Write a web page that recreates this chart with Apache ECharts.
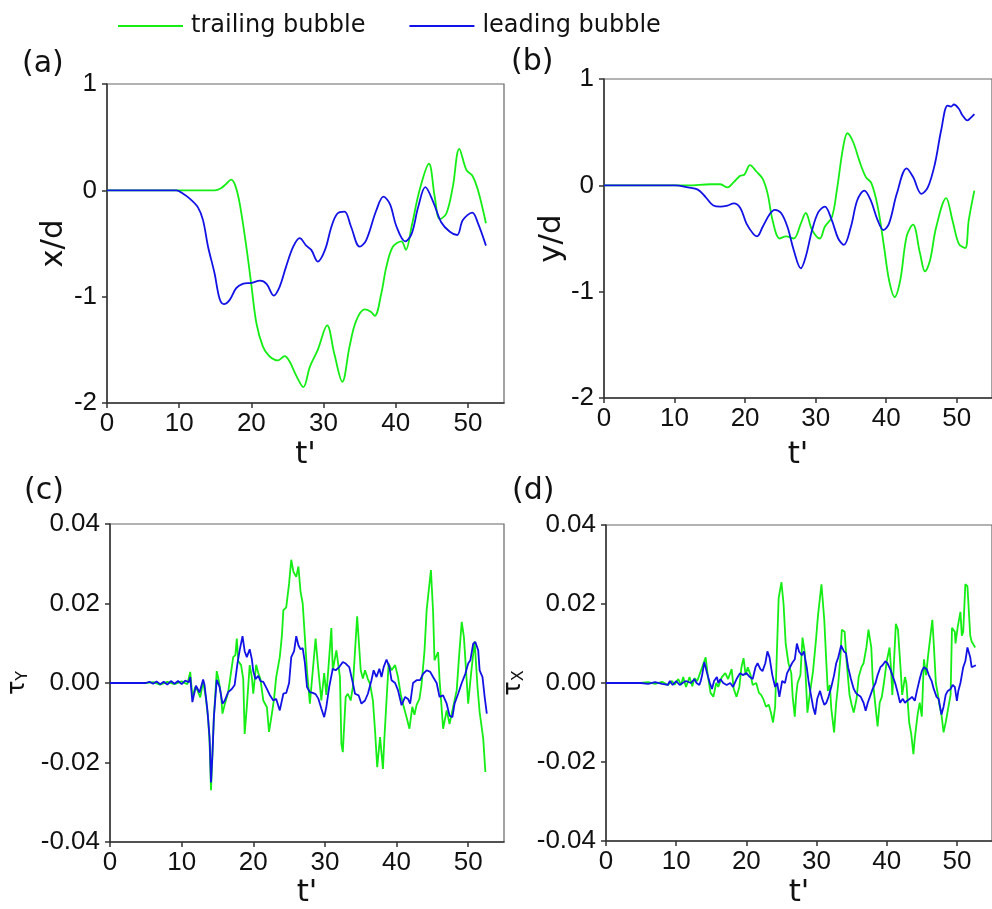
<!DOCTYPE html>
<html>
<head>
<meta charset="utf-8">
<script src="https://cdn.jsdelivr.net/npm/echarts@6/dist/echarts.min.js"></script>
<style>
  html, body { margin: 0; padding: 0; background: #fff; }
  #chart { width: 992px; height: 909px; }
</style>
</head>
<body>
<div id="chart"></div>
<script>
// Time ticks shared by all four panels
const timeTicks = [0, 10, 20, 30, 40, 50];
const seriesNames = ['trailing bubble', 'leading bubble'];

// (a) streamwise position x/d versus t'
const trailingX = [[0,0],[10,0],[14.9,0],[15.8,0.02],[16.5,0.06],[17.2,0.10],[17.8,0.04],[18.4,-0.13],[19.3,-0.53],[20.0,-0.89],[20.7,-1.25],[21.6,-1.47],[22.5,-1.56],[23.7,-1.60],[24.6,-1.56],[25.3,-1.61],[26.2,-1.74],[27.2,-1.85],[28.1,-1.66],[29.2,-1.50],[30.5,-1.27],[31.5,-1.54],[32.6,-1.80],[33.6,-1.47],[34.5,-1.23],[35.7,-1.12],[36.5,-1.14],[37.1,-1.18],[38.0,-0.97],[38.7,-0.72],[39.6,-0.53],[40.8,-0.48],[41.4,-0.56],[42.2,-0.34],[43.3,0],[44.6,0.25],[45.4,-0.06],[46.1,-0.27],[47.0,-0.22],[47.9,0.03],[48.8,0.39],[49.8,0.19],[50.6,0.14],[51.4,0],[52.5,-0.31]];
const leadingX = [[0,0],[9.6,0],[10.5,-0.03],[11.5,-0.08],[12.6,-0.16],[13.3,-0.28],[14.0,-0.53],[14.9,-0.78],[15.6,-1.02],[16.2,-1.07],[17.0,-1.03],[17.9,-0.92],[18.8,-0.88],[20.0,-0.87],[21.2,-0.85],[22.1,-0.88],[23.1,-0.99],[23.9,-0.91],[24.8,-0.72],[25.8,-0.53],[26.7,-0.45],[27.6,-0.52],[28.3,-0.56],[29.2,-0.67],[30.2,-0.56],[31.1,-0.34],[31.9,-0.22],[32.9,-0.20],[33.8,-0.34],[35.0,-0.53],[35.9,-0.47],[37.3,-0.19],[38.3,-0.06],[39.2,-0.13],[40.1,-0.34],[41.3,-0.48],[42.2,-0.41],[43.1,-0.16],[44.1,0.03],[45.2,-0.11],[46.3,-0.30],[47.5,-0.39],[48.5,-0.42],[49.3,-0.28],[50.6,-0.21],[51.4,-0.31],[52.5,-0.52]];

// (b) lateral position y/d versus t'
const trailingY = [[0,0],[11.9,0],[15.1,0.01],[16.5,0.01],[17.5,-0.02],[18.4,0.03],[19.3,0.09],[19.9,0.10],[20.7,0.19],[21.6,0.13],[22.5,0.06],[23.2,-0.08],[23.9,-0.33],[24.9,-0.50],[25.8,-0.48],[26.9,-0.50],[27.9,-0.36],[28.6,-0.26],[29.5,-0.42],[30.6,-0.50],[31.3,-0.39],[32.3,-0.30],[33.0,-0.05],[33.9,0.36],[34.5,0.49],[35.3,0.41],[36.2,0.23],[37.1,0.08],[37.9,0.02],[38.8,-0.20],[39.7,-0.58],[40.4,-0.89],[41.2,-1.05],[42.0,-0.89],[42.9,-0.48],[43.8,-0.37],[44.8,-0.64],[45.5,-0.81],[46.2,-0.71],[47.1,-0.39],[48.5,-0.12],[49.4,-0.33],[50.3,-0.55],[51.2,-0.59],[51.7,-0.33],[52.5,-0.05]];
const leadingY = [[0,0],[10.1,0],[11.9,-0.02],[13.3,-0.04],[14.4,-0.11],[15.5,-0.19],[16.5,-0.20],[17.5,-0.19],[18.4,-0.17],[19.3,-0.21],[20.2,-0.36],[21.2,-0.46],[21.7,-0.48],[22.5,-0.39],[23.5,-0.27],[24.2,-0.23],[25.1,-0.26],[26.0,-0.39],[26.9,-0.61],[27.9,-0.78],[28.6,-0.67],[29.5,-0.42],[30.4,-0.25],[31.3,-0.20],[32.3,-0.33],[33.2,-0.50],[34.0,-0.56],[35.0,-0.39],[35.9,-0.14],[36.9,-0.05],[37.8,-0.14],[38.8,-0.33],[39.6,-0.42],[40.4,-0.36],[41.5,-0.08],[42.9,0.16],[43.8,0.08],[45.0,-0.08],[45.9,-0.02],[46.9,0.20],[47.8,0.52],[48.7,0.75],[49.2,0.74],[49.6,0.76],[50.3,0.72],[50.8,0.66],[51.5,0.61],[51.9,0.63],[52.5,0.67]];

// (c) and (d) torque values, written in units of 1e-3
const tauUnit = 1e-3;
const trailingTauY = [[0,0],[5,0],[6,0.2],[7,-0.4],[8,0.3],[9,-0.3],[10,0.4],[10.8,-0.3],[11.2,2.8],[11.5,-3.5],[11.9,-1.0],[12.2,-1.8],[12.6,-3.6],[13.0,0.5],[13.4,-4],[13.7,-9],[13.9,-15],[14.1,-27],[14.3,-18],[14.5,-8.6],[14.9,3.0],[15.2,0.5],[15.5,-3],[15.7,-7.7],[16.0,-5.5],[16.5,-2.3],[16.8,1.5],[17.2,6.5],[17.5,7],[17.7,11.2],[17.9,5.5],[18.3,4.5],[18.6,1],[18.8,-12.8],[19.1,-6],[19.5,4.5],[19.8,1.5],[20.0,-2.7],[20.4,4.6],[20.7,2.5],[21.0,1],[21.4,-4.4],[21.9,-6.1],[22.2,-12.3],[22.6,-7.7],[22.9,-4],[23.2,1.5],[23.7,6.5],[24.0,12],[24.2,18.3],[24.6,19],[25.0,25],[25.3,31],[25.6,28],[26.0,26.7],[26.3,29.3],[26.6,23],[26.9,20],[27.2,11.6],[27.5,3],[27.9,-5.2],[28.3,3],[28.7,11.2],[29.0,5],[29.5,-4.4],[29.9,2.5],[30.2,-3],[30.5,4],[30.9,13.8],[31.1,3.2],[31.6,8.2],[32.1,1.5],[32.3,-15.3],[32.5,-17.4],[32.9,-3.5],[33.2,-2.7],[33.6,-4.4],[33.9,-1.0],[34.2,8],[34.5,16.8],[35.0,3.2],[35.3,1.1],[35.6,3.2],[36.0,1],[36.3,-0.2],[36.7,-4.4],[37.0,-12],[37.3,-21.2],[37.7,-13.6],[38.1,-21.6],[38.3,-14],[38.6,-4.4],[38.9,4.9],[39.3,3.2],[39.8,4.5],[40.2,1.5],[40.6,-3],[41.0,-6],[41.4,-8.6],[41.8,-11.5],[42.2,-6],[42.5,-8],[42.8,-5.5],[43.2,-4],[43.5,-0.2],[43.9,8],[44.2,18.3],[44.8,28.4],[45.1,18],[45.3,5.7],[45.8,7.8],[46.0,1],[46.5,-11.5],[47.0,-6.9],[47.4,-10.3],[47.9,-6],[48.4,-1.8],[48.7,6],[49.1,15.4],[49.4,11.6],[50.0,-5.2],[50.4,2.3],[50.9,10.5],[51.3,-1.0],[51.6,-7.3],[51.8,-7.5],[52.1,-14],[52.4,-22.4]];
const leadingTauY = [[0,0],[5,0],[5.5,0.3],[6,-0.2],[6.5,0.4],[7,-0.3],[7.5,0.3],[8,-0.4],[8.5,0.5],[9,-0.2],[9.5,0.5],[10,-0.3],[10.5,0.6],[11.0,0.2],[11.2,1.5],[11.5,-4.8],[12.0,-0.7],[12.5,-2.4],[13.0,0.9],[13.2,-0.5],[13.6,-6.9],[13.9,-13.6],[14.1,-25],[14.3,-18],[14.5,-8.6],[14.9,0.8],[15.3,-1],[15.7,-5.2],[16.0,-4.5],[16.5,-2.3],[17.0,-1.5],[17.4,-0.5],[17.8,5],[18.1,8.2],[18.5,11.8],[18.8,8],[19.1,6.5],[19.5,8.5],[19.8,6],[20.0,3],[20.3,1],[20.7,1.8],[21.0,0.5],[21.4,0.3],[21.9,-1.5],[22.3,-3],[22.8,-4.4],[23.2,-4],[23.7,-6.9],[24.2,-2.7],[24.6,-2.5],[25.0,0],[25.3,6.5],[25.7,8],[26.0,11.8],[26.3,9.5],[26.6,8.5],[26.9,8.8],[27.2,5.2],[27.5,-1.0],[27.9,-2.3],[28.3,-2.5],[28.7,-2.8],[29.1,-4],[29.5,-6.4],[29.9,-8.6],[30.2,-6],[30.6,-1],[31.1,3.6],[31.5,3.2],[32.0,4.0],[32.5,5.3],[32.9,4.9],[33.4,4.0],[33.9,0],[34.2,-2.7],[34.7,-3.1],[35.1,-5.2],[35.6,-4.4],[36.0,-2.7],[36.5,0.7],[36.8,3.2],[37.2,1.5],[37.6,3.6],[37.9,1.5],[38.2,4.0],[38.6,5.9],[39.0,4.0],[39.3,0.7],[39.8,0],[40.2,-1.8],[40.7,-5.6],[41.2,-3.5],[41.6,-4.0],[41.9,-5.2],[42.3,0],[42.8,0.7],[43.3,0.7],[43.7,2.3],[44.2,3.2],[44.7,2.8],[45.1,1.5],[45.6,0],[46.0,-3.5],[46.5,-3.1],[47.0,-5.2],[47.4,-8.2],[47.8,-8.6],[48.1,-5.2],[48.6,-2.7],[49.1,0],[49.6,2.3],[50.0,4.9],[50.3,5.7],[50.7,9.9],[51.0,10.3],[51.4,8.2],[51.6,3.2],[52.0,1.5],[52.3,-3.5],[52.6,-7.7]];
const trailingTauX = [[0,0],[5,0],[6,0.2],[7,-0.2],[8,0.3],[8.8,-0.5],[9.4,0.5],[9.8,-0.4],[10.3,1.0],[10.7,-0.5],[11.0,1.5],[11.4,-1.0],[11.9,1.5],[12.3,-0.8],[12.6,1.2],[13.0,0.5],[13.3,2.0],[13.7,4.0],[14.2,6.5],[14.5,2.0],[14.9,-2.5],[15.3,-3.5],[15.7,0],[16.0,-1.0],[16.5,1.5],[17.0,2.5],[17.4,1.0],[17.9,3.5],[18.2,-1.5],[18.6,-3.5],[19.0,-1.0],[19.3,4.0],[19.6,6.3],[19.9,2.0],[20.2,4.0],[20.6,2.0],[20.9,-0.5],[21.4,0],[21.8,-2.5],[22.1,-3.0],[22.4,-4.0],[22.8,-6.0],[23.2,-5.5],[23.5,-7.5],[23.8,-10.0],[24.1,-6],[24.3,5],[24.6,21.5],[24.7,22.5],[25.0,25.5],[25.3,20],[25.6,10],[25.8,9.5],[26.0,5],[26.4,2.5],[26.6,-3.5],[26.9,-8.5],[27.1,-3],[27.3,0],[27.7,2.0],[28.0,11.5],[28.3,8],[28.5,0],[28.7,-7.5],[29.1,-2],[29.5,3],[29.9,10.5],[30.2,17],[30.7,25],[31.1,16],[31.4,5],[31.6,-2],[31.9,-0.5],[32.1,-6.5],[32.5,-12.5],[32.8,-5],[33.1,0],[33.4,6.5],[33.6,13.5],[34.0,13],[34.3,5],[34.7,-3],[35.0,-5.5],[35.3,-7.5],[35.7,-4],[36.0,1.5],[36.4,4.0],[36.7,5.0],[37.1,9],[37.4,13.5],[37.8,9],[38.0,1],[38.4,-6],[38.7,-11],[39.0,-5],[39.3,-3.5],[39.6,0],[40.0,5.5],[40.4,9.0],[40.6,4],[40.8,-3],[41.0,4],[41.3,15],[41.6,13.5],[42.0,3],[42.2,-3],[42.6,1.5],[42.8,0],[43.2,-10],[43.5,-13],[43.8,-18],[44.0,-14],[44.4,-8],[44.7,-5],[45.0,-8.5],[45.3,6],[45.6,2],[45.9,7],[46.3,13],[46.5,16],[46.7,10],[47.0,0],[47.3,-3],[47.5,-5.5],[47.8,-8],[48.1,-12.5],[48.4,-10],[48.8,-6],[49.1,-3],[49.3,14],[49.7,13],[49.8,10],[50.1,14],[50.5,18],[50.7,12],[50.9,13],[51.2,25],[51.5,24.5],[51.9,12],[52.1,10.5],[52.6,9.0]];
const leadingTauX = [[0,0],[5,0],[6,-0.2],[7,0.2],[8,-0.2],[8.8,-0.5],[9.1,0.5],[9.5,-0.5],[10.0,0.5],[10.5,-0.5],[10.9,0],[11.4,0.5],[11.6,1.0],[12.1,0],[12.6,1.0],[12.9,0],[13.3,-0.5],[13.5,0.5],[13.7,2.0],[14.0,5.3],[14.4,2.5],[14.8,0],[15.1,-1.5],[15.4,0.5],[15.8,1.5],[16.0,0],[16.3,1.0],[16.7,0],[17.2,-0.5],[17.7,0],[18.1,-1.0],[18.6,1.0],[19.1,2.5],[19.5,2.0],[20.0,2.5],[20.5,1.5],[20.9,1.0],[21.3,4.0],[21.6,5.0],[22.0,3.5],[22.3,3.0],[22.7,5.0],[23.0,8.0],[23.3,6.5],[23.7,2.0],[24.1,-1],[24.4,0],[24.7,-3.5],[25.1,0.5],[25.5,0],[25.8,2.5],[26.1,3.5],[26.5,5.0],[26.9,6.0],[27.2,10],[27.5,8],[27.9,7],[28.2,8],[28.6,4],[28.9,0],[29.2,-3],[29.5,-6],[29.8,-8],[30.1,-4],[30.5,-2],[30.8,-4],[31.1,-5.5],[31.4,-5],[31.7,-3.5],[32.1,-1],[32.5,2],[32.8,5],[33.1,6.5],[33.5,9.5],[33.9,8],[34.2,7.5],[34.5,4],[34.9,1],[35.3,-1.5],[35.6,-2.5],[35.9,-3],[36.3,-3.5],[36.7,-5],[37.0,-7],[37.3,-5],[37.7,-3],[38.0,-1.5],[38.4,0],[38.7,2],[39.1,4],[39.4,4.5],[39.8,5.5],[40.1,5],[40.5,3.5],[40.8,2],[41.2,0],[41.5,-2],[41.9,-5],[42.3,-4],[42.6,-5],[42.9,-4.5],[43.3,-4],[43.6,-3.5],[44.0,-4.5],[44.3,-2],[44.7,1],[45.0,3],[45.3,4],[45.7,3.5],[46.0,2],[46.4,0.5],[46.7,-1.5],[47.1,-3.5],[47.4,-4],[47.8,-8],[48.1,-6],[48.4,-3],[48.7,-2],[49.1,-1.5],[49.4,-0.5],[49.7,-1],[50.0,-4.5],[50.2,-2],[50.5,0],[50.7,2],[50.9,4],[51.2,5.5],[51.5,9],[51.9,6.5],[52.1,4],[52.3,3.5],[52.7,4.5]];

const GREEN = '#14ee14';
const BLUE = '#1212e6';
const TICK_FONT = '"Liberation Sans", Arial, sans-serif';
const TEXT_FONT = '"DejaVu Sans", Verdana, sans-serif';

const toTau = arr => arr.map(p => [p[0], p[1] * tauUnit]);

const grids = [
  { left: 107, top: 84, width: 397, height: 319 },
  { left: 604, top: 79, width: 396, height: 319 },
  { left: 110, top: 524, width: 394, height: 318 },
  { left: 606, top: 525, width: 395, height: 318 }
].map(g => Object.assign({ show: true, borderColor: '#666', borderWidth: 1.2, backgroundColor: 'transparent' }, g));

const nameGapsX = [36, 41, 35, 36];

const xAxes = grids.map((g, i) => ({
  type: 'value', gridIndex: i, min: 0, max: 55,
  name: "t'", nameLocation: 'middle', nameGap: nameGapsX[i],
  nameTextStyle: { fontFamily: TEXT_FONT, fontSize: 31, color: '#111' },
  axisLine: { show: true, onZero: false, lineStyle: { color: '#333', width: 1.5 } },
  axisTick: { show: true, length: 5, customValues: timeTicks, lineStyle: { color: '#333', width: 1.5 } },
  axisLabel: { customValues: timeTicks, fontFamily: TICK_FONT, fontSize: 26, color: '#111', margin: 8 },
  splitLine: { show: false }
}));

const tauFormatter = v => (Math.abs(v) < 1e-9 ? 0 : v).toFixed(2);
const posAxis = (i, name, gap) => ({
  type: 'value', gridIndex: i, min: -2, max: 1, interval: 1,
  name, nameLocation: 'middle', nameGap: gap,
  nameTextStyle: { fontFamily: TEXT_FONT, fontSize: 31, color: '#111' },
  axisLine: { show: true, lineStyle: { color: '#333', width: 1.5 } },
  axisTick: { show: true, length: 5, lineStyle: { color: '#333', width: 1.5 } },
  axisLabel: { fontFamily: TICK_FONT, fontSize: 26, color: '#111', margin: 10 },
  splitLine: { show: false }
});
const tauAxis = (i, sub, gap) => ({
  type: 'value', gridIndex: i, min: -0.04, max: 0.04, interval: 0.02,
  name: '{t|τ}{s|' + sub + '}', nameLocation: 'middle', nameGap: gap,
  nameTextStyle: {
    color: '#111',
    rich: {
      t: { fontFamily: TEXT_FONT, fontSize: 24, color: '#111' },
      s: { fontFamily: TEXT_FONT, fontSize: 16, color: '#111', padding: [10, 0, 0, 0] }
    }
  },
  axisLine: { show: true, lineStyle: { color: '#333', width: 1.5 } },
  axisTick: { show: true, length: 5, lineStyle: { color: '#333', width: 1.5 } },
  axisLabel: { fontFamily: TICK_FONT, fontSize: 26, color: '#111', margin: 10, formatter: tauFormatter },
  splitLine: { show: false }
});

const yAxes = [
  posAxis(0, 'x/d', 38),
  posAxis(1, 'y/d', 36),
  tauAxis(2, 'Y', 79),
  tauAxis(3, 'X', 79)
];

const lineSeries = (name, data, idx, color, smooth) => ({
  name, type: 'line', data, xAxisIndex: idx, yAxisIndex: idx,
  symbol: 'none', smooth, color,
  itemStyle: { color },
  lineStyle: { color, width: 1.8 },
  z: color === BLUE ? 3 : 2
});

const series = [
  lineSeries(seriesNames[0], trailingX, 0, GREEN, 0.35),
  lineSeries(seriesNames[1], leadingX, 0, BLUE, 0.35),
  lineSeries(seriesNames[0], trailingY, 1, GREEN, 0.35),
  lineSeries(seriesNames[1], leadingY, 1, BLUE, 0.35),
  lineSeries(seriesNames[0], toTau(trailingTauY), 2, GREEN, false),
  lineSeries(seriesNames[1], toTau(leadingTauY), 2, BLUE, false),
  lineSeries(seriesNames[0], toTau(trailingTauX), 3, GREEN, false),
  lineSeries(seriesNames[1], toTau(leadingTauX), 3, BLUE, false)
];

const panelLabel = (text, x, y) => ({
  type: 'text', x, y,
  style: { text, font: '30px ' + TEXT_FONT, fill: '#111', textVerticalAlign: 'middle' }
});

const chart = echarts.init(document.getElementById('chart'), null, { renderer: 'canvas' });
chart.setOption({
  animation: false,
  backgroundColor: '#fff',
  legend: {
    show: true,
    data: seriesNames.map(name => ({ name, icon: 'rect' })),
    left: 113, top: 9,
    itemWidth: 65, itemHeight: 2, itemGap: 44,
    textStyle: { fontFamily: TEXT_FONT, fontSize: 24, color: '#111', padding: [0, 0, 0, 3] }
  },
  grid: grids,
  xAxis: xAxes,
  yAxis: yAxes,
  series,
  graphic: [
    panelLabel('(a)', 22, 64),
    panelLabel('(b)', 511, 62),
    panelLabel('(c)', 24, 491),
    panelLabel('(d)', 512, 491)
  ]
});
</script>
</body>
</html>
